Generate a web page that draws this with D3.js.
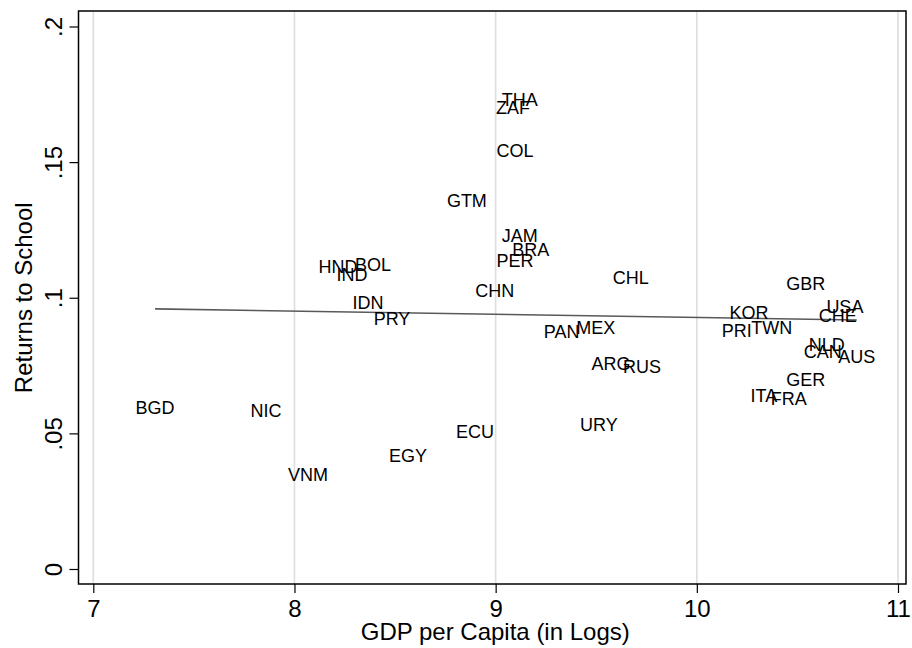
<!DOCTYPE html>
<html>
<head>
<meta charset="utf-8">
<script src="https://cdn.jsdelivr.net/npm/d3@7"></script>
<style>
  html, body { margin: 0; padding: 0; background: #fff; }
  text { font-family: "Liberation Sans", Arial, Helvetica, sans-serif; }
</style>
</head>
<body>
<svg id="chart" width="912" height="648"></svg>
<script>
// ---- data ----
const countries = ["THA","ZAF","COL","GTM","JAM","BRA","PER","HND","BOL","IND","IDN","CHN","CHL","PRY","PAN","MEX","ARG","RUS","URY","ECU","EGY","VNM","NIC","BGD","GBR","KOR","PRI","TWN","USA","CHE","NLD","CAN","AUS","GER","ITA","FRA"];
const logGdp = [9.120,9.086,9.096,8.857,9.120,9.175,9.096,8.216,8.390,8.286,8.365,8.996,9.672,8.485,9.328,9.498,9.573,9.727,9.513,8.897,8.564,8.067,7.858,7.307,10.542,10.259,10.199,10.373,10.736,10.701,10.646,10.626,10.795,10.542,10.333,10.457];
const returns = [0.1729,0.1703,0.1544,0.1360,0.1228,0.1176,0.1136,0.1114,0.1121,0.1084,0.0984,0.1025,0.1073,0.0922,0.0874,0.0892,0.0759,0.0745,0.0531,0.0505,0.0417,0.0347,0.0583,0.0597,0.1054,0.0947,0.0881,0.0892,0.0966,0.0936,0.0829,0.0800,0.0782,0.0700,0.0641,0.0627];
const fitX = [7.307, 10.795];
const fitY = [0.0959, 0.0918];
const xTicks = [7, 8, 9, 10, 11];
const yTicks = [0, 0.05, 0.1, 0.15, 0.2];
const yTickLabels = ["0", ".05", ".1", ".15", ".2"];
const xTitle = "GDP per Capita (in Logs)";
const yTitle = "Returns to School";

// ---- layout ----
const svg = d3.select("#chart");
const frame = { left: 78.5, right: 906, top: 11, bottom: 584 };
const x = d3.scaleLinear().domain([7, 11]).range([93.3, 898]);
const y = d3.scaleLinear().domain([0, 0.2]).range([569, 26.5]);

// gridlines (vertical, at x ticks)
svg.append("g").selectAll("line").data(xTicks).join("line")
  .attr("x1", d => x(d)).attr("x2", d => x(d))
  .attr("y1", frame.top).attr("y2", frame.bottom)
  .attr("stroke", "#dedede").attr("stroke-width", 1.6);

// frame
svg.append("rect")
  .attr("x", frame.left).attr("y", frame.top)
  .attr("width", frame.right - frame.left).attr("height", frame.bottom - frame.top)
  .attr("fill", "none").attr("stroke", "#000").attr("stroke-width", 1.5);

// x axis
const xAxis = d3.axisBottom(x).tickValues(xTicks).tickSize(9).tickPadding(6).tickFormat(d3.format("d"));
const gx = svg.append("g").attr("transform", `translate(0,${frame.bottom})`).call(xAxis);
gx.select(".domain").remove();
gx.selectAll(".tick line").attr("stroke", "#000").attr("stroke-width", 1.2);
gx.selectAll(".tick text").attr("font-size", 24).attr("fill", "#000")
  .attr("font-family", "Liberation Sans, Arial, sans-serif")
  .attr("dy", null).attr("y", 33);

// y axis
const yAxis = d3.axisLeft(y).tickValues(yTicks).tickSize(9)
  .tickFormat((d, i) => yTickLabels[i]);
const gy = svg.append("g").attr("transform", `translate(${frame.left},0)`).call(yAxis);
gy.select(".domain").remove();
gy.selectAll(".tick line").attr("stroke", "#000").attr("stroke-width", 1.2);
gy.selectAll(".tick text")
  .attr("font-size", 24).attr("fill", "#000")
  .attr("font-family", "Liberation Sans, Arial, sans-serif")
  .attr("x", null).attr("dy", null)
  .attr("text-anchor", "middle")
  .attr("transform", "translate(-16.5,0) rotate(-90)");

// fitted line
svg.append("path")
  .datum(fitX.map((v, i) => [v, fitY[i]]))
  .attr("d", d3.line().x(d => x(d[0])).y(d => y(d[1])))
  .attr("fill", "none").attr("stroke", "#595959").attr("stroke-width", 1.6);

// country labels (centered on points)
svg.append("g").selectAll("text").data(countries).join("text")
  .attr("x", (d, i) => x(logGdp[i]))
  .attr("y", (d, i) => y(returns[i]))
  .attr("dy", "0.36em")
  .attr("text-anchor", "middle")
  .attr("font-size", 18)
  .attr("fill", "#000")
  .text(d => d);

// axis titles
svg.append("text")
  .attr("x", (frame.left + frame.right) / 2 + 3).attr("y", 640)
  .attr("text-anchor", "middle").attr("font-size", 24).attr("fill", "#000")
  .text(xTitle);
svg.append("text")
  .attr("transform", `translate(32,${y(0.1)}) rotate(-90)`)
  .attr("text-anchor", "middle").attr("font-size", 24).attr("fill", "#000")
  .text(yTitle);
</script>
</body>
</html>
